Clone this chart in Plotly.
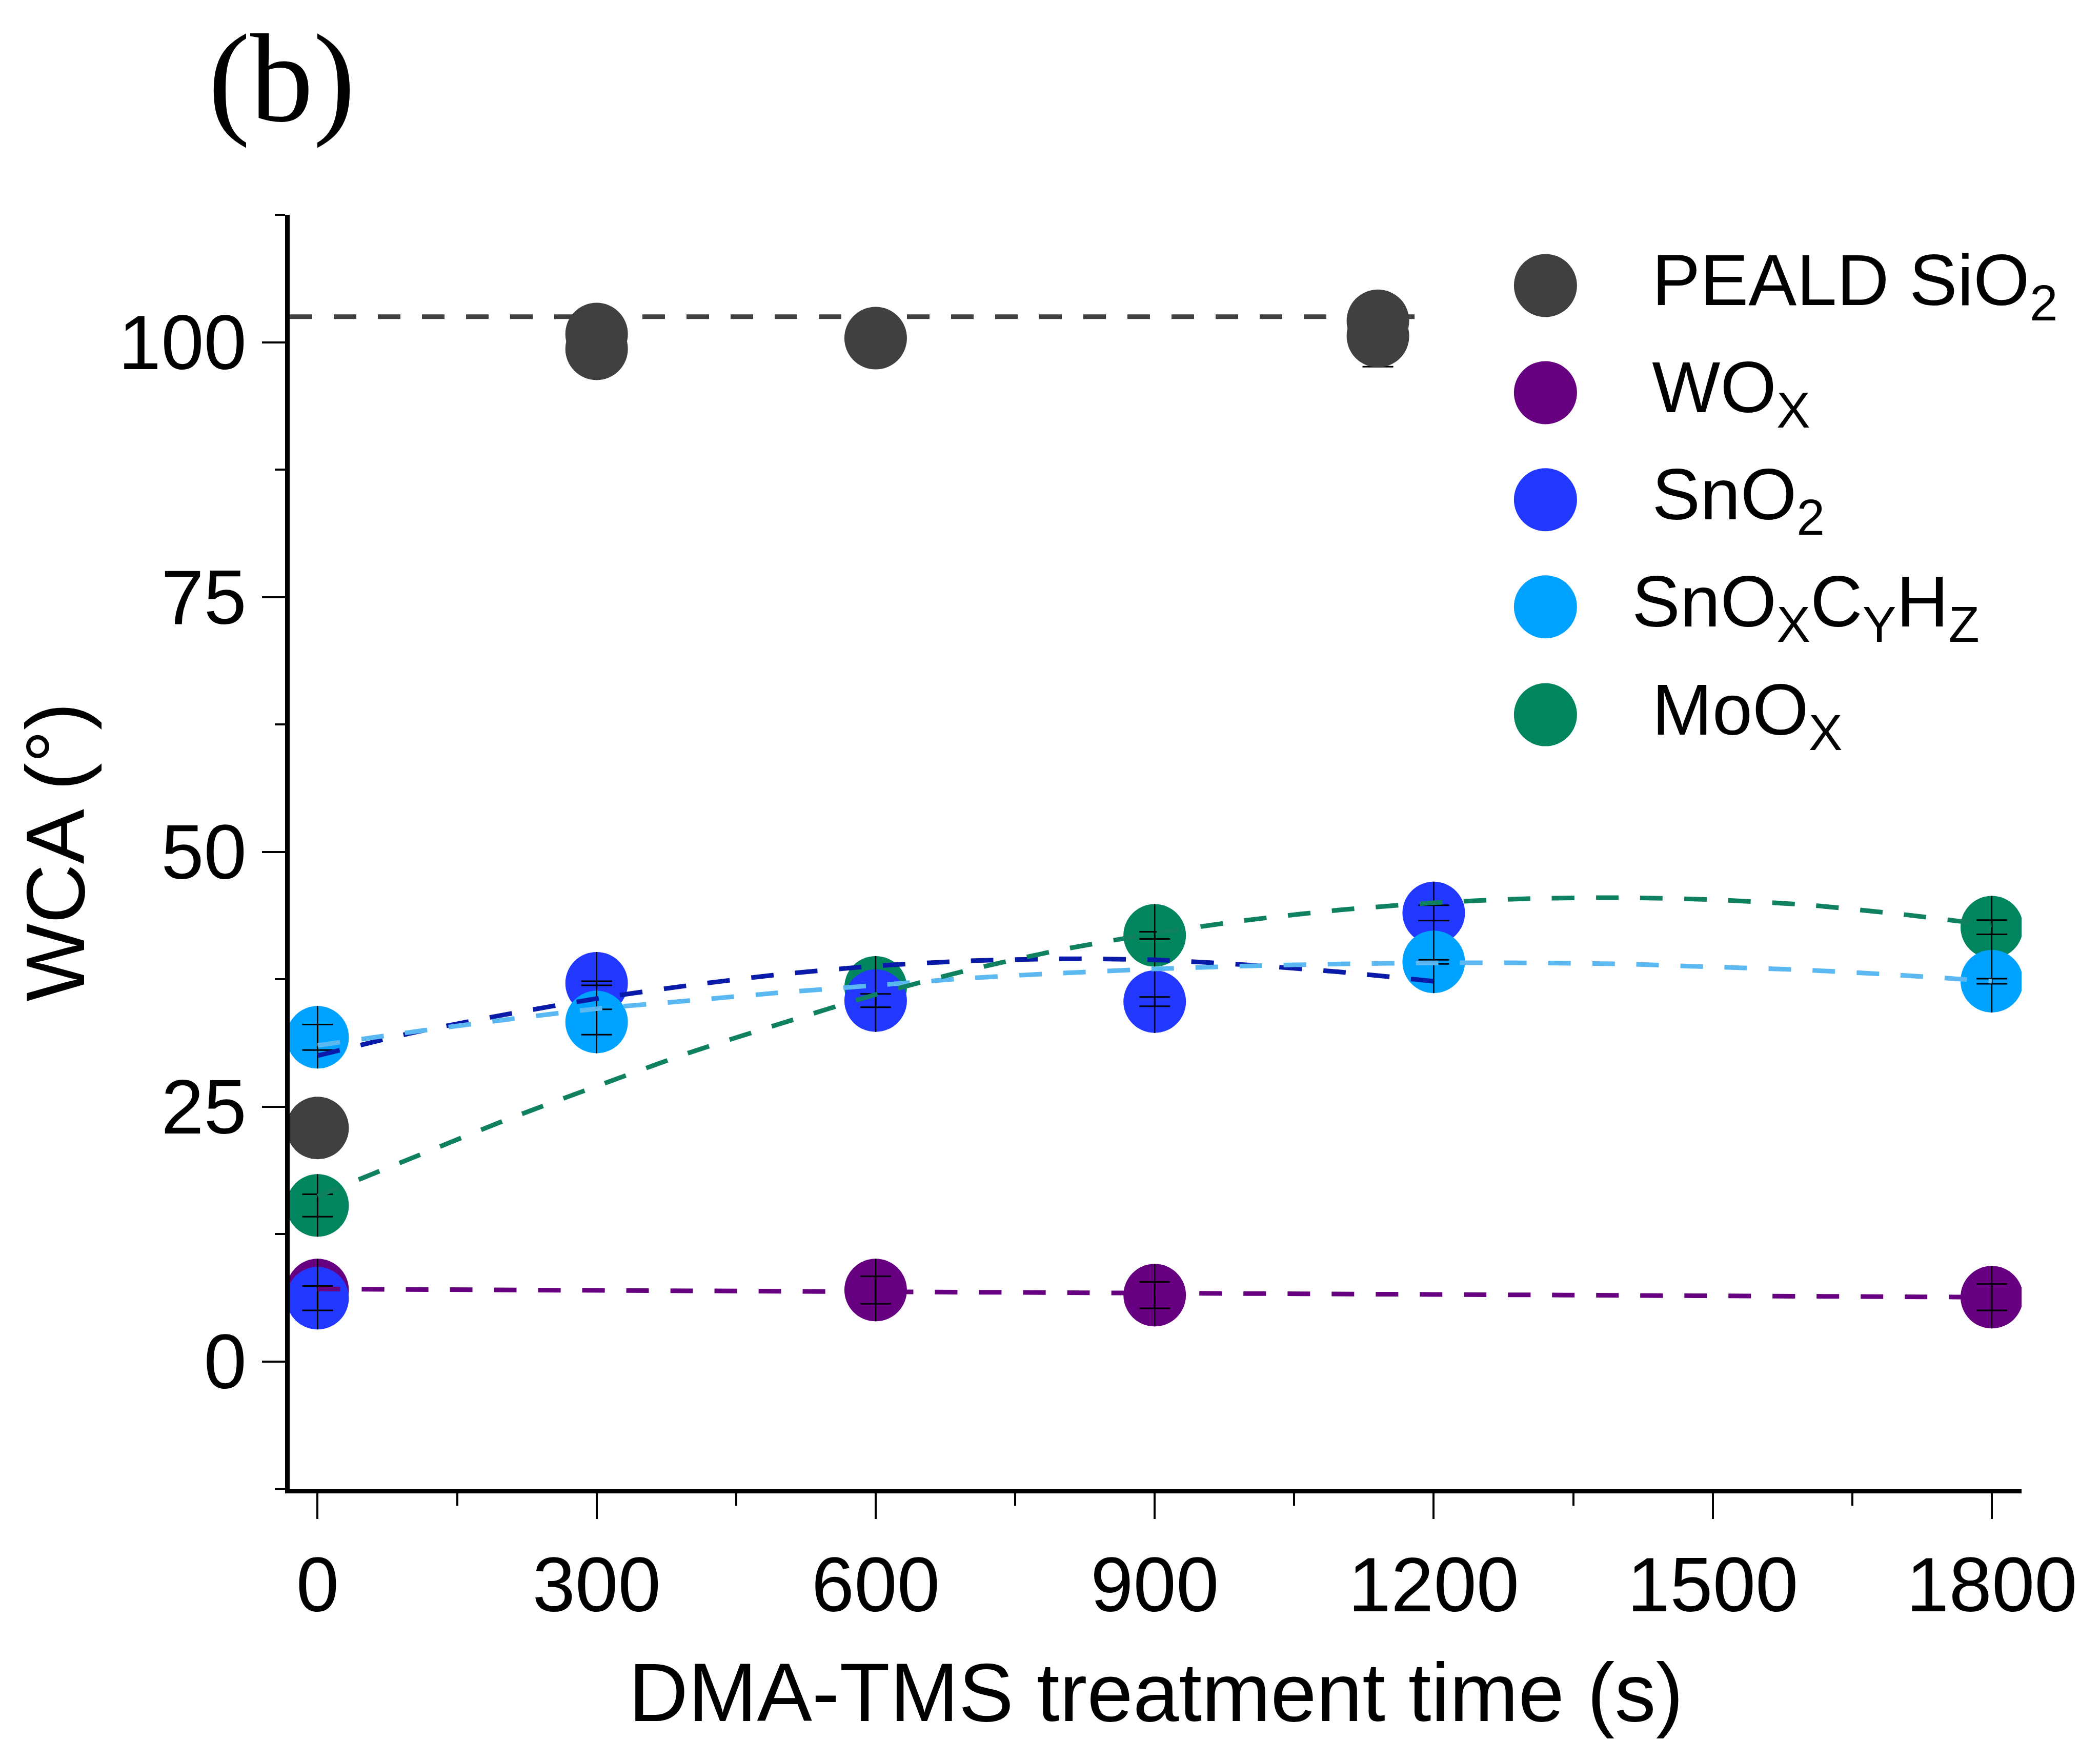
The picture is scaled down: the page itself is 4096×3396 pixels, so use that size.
import plotly.graph_objects as go

# ---------------- data ----------------
sio2_x = [0, 300, 300, 600, 1140, 1140]
sio2_y = [22.9, 100.8, 99.35, 100.4, 102.1, 100.6]
sio2_err = [0, 0, 0, 0, 0, 3.0]

wox_x = [0, 600, 900, 1800]
wox_y = [7.0, 7.0, 6.5, 6.3]
wox_err = [1.3, 1.35, 1.3, 1.3]

moox_x = [0, 600, 900, 1800]
moox_y = [15.3, 36.7, 41.8, 42.6]
moox_err = [1.1, 0.7, 0.35, 0.7]

sno2_x = [0, 300, 600, 900, 1200]
sno2_y = [6.2, 37.1, 35.4, 35.3, 44.0]
sno2_err = [1.2, 0.2, 0.65, 0.45, 0.75]

snoc_x = [0, 300, 1200, 1800]
snoc_y = [31.8, 33.3, 39.2, 37.3]
snoc_err = [1.25, 1.25, 0.2, 0.25]

# fitted guide curves (dashed)
sio2_fit_x = [-30, 1200]
sio2_fit_y = [102.5, 102.5]
wox_fit_x = [0, 900, 1800]
wox_fit_y = [7.1, 6.7, 6.3]
sno2_fit_x = [0, 100, 200, 300, 400, 500, 600, 700, 800, 900, 1000, 1100, 1200]
sno2_fit_y = [30.0, 32.2, 34.0, 35.6, 36.9, 38.0, 38.8, 39.3, 39.5, 39.4, 38.9, 38.2, 37.3]
snoc_fit_x = [0, 100, 200, 300, 400, 500, 600, 700, 800, 900, 1000, 1100, 1200,
              1300, 1400, 1500, 1600, 1700, 1800]
snoc_fit_y = [31.0, 32.3, 33.5, 34.6, 35.4, 36.2, 36.9, 37.6, 38.1, 38.5, 38.8, 39.0, 39.1,
              39.1, 39.0, 38.7, 38.4, 37.9, 37.3]
moox_fit_x = [0, 100, 200, 300, 400, 500, 600, 700, 800, 900, 1000, 1100, 1200,
              1300, 1400, 1500, 1600, 1700, 1800]
moox_fit_y = [16.2, 19.9, 23.6, 27.0, 30.3, 33.2, 36.0, 38.4, 40.4, 42.0, 43.3, 44.3, 45.0,
              45.4, 45.5, 45.3, 44.8, 43.9, 42.8]

legend_names = ["\u00a0PEALD SiO<sub>2</sub>", "\u00a0WO<sub>X</sub>", "\u00a0SnO<sub>2</sub>",
                "SnO<sub>X</sub>C<sub>Y</sub>H<sub>Z</sub>", "\u00a0MoO<sub>X</sub>"]

x_ticks = [0, 300, 600, 900, 1200, 1500, 1800]
y_ticks = [0, 25, 50, 75, 100]

# ---------------- styles ----------------
C_SIO2 = "#404040"
C_WOX = "#660080"
C_SNO2 = "#2338FF"
C_SNOC = "#00A2FF"
C_MOOX = "#00855F"
L_SNO2 = "#0A1AA8"
L_SNOC = "#5BB8F0"
L_MOOX = "#0F8060"

FONT = "Liberation Sans, Arial, sans-serif"
MS = 122          # marker diameter (px)
LW = 9            # dashed line width
DASH = "44px,42px"

fig = go.Figure()


def markers(x, y, color, err=None, err_under=False):
    kw = {}
    if err is not None and err_under:
        kw["error_y"] = dict(type="data", array=err, visible=True, color="black",
                             thickness=3, width=30)
    fig.add_trace(go.Scatter(x=x, y=y, mode="markers", showlegend=False, hoverinfo="skip",
                             marker=dict(size=MS, color=color, line=dict(width=0)), **kw))


def overlay(x, y, err):
    fig.add_trace(go.Scatter(
        x=x, y=y, mode="markers", showlegend=False, hoverinfo="skip",
        marker=dict(symbol="line-ns", size=MS / 1.4, color="black",
                    line=dict(width=2.5, color="black")),
        error_y=dict(type="data", array=err, visible=True, color="black",
                     thickness=3, width=30)))


# markers (Origin order) with error overlays
markers(sio2_x, sio2_y, C_SIO2, sio2_err, err_under=True)
markers(wox_x, wox_y, C_WOX)
overlay(wox_x, wox_y, wox_err)
markers(moox_x, moox_y, C_MOOX)
overlay(moox_x, moox_y, moox_err)
markers(sno2_x, sno2_y, C_SNO2)
overlay(sno2_x, sno2_y, sno2_err)
markers(snoc_x, snoc_y, C_SNOC)
overlay(snoc_x, snoc_y, snoc_err)

# dashed fit curves on top


def fit(x, y, color):
    fig.add_trace(go.Scatter(x=x, y=y, mode="lines", showlegend=False, hoverinfo="skip",
                             line=dict(color=color, width=LW, dash=DASH, shape="spline",
                                       smoothing=0.6)))


fit(sio2_fit_x, sio2_fit_y, C_SIO2)
fit(wox_fit_x, wox_fit_y, C_WOX)
fit(sno2_fit_x, sno2_fit_y, L_SNO2)
fit(snoc_fit_x, snoc_fit_y, L_SNOC)
fit(moox_fit_x, moox_fit_y, L_MOOX)

# ---------------- legend (manual, large symbols) ----------------
leg_colors = [C_SIO2, C_WOX, C_SNO2, C_SNOC, C_MOOX]
leg_y = [0.9445, 0.8604, 0.7764, 0.6923, 0.6076]
leg_mx = 0.7251
leg_tx = 0.7745
fig.add_trace(go.Scatter(x=[leg_mx] * len(leg_y), y=leg_y, xaxis="x2", yaxis="y2",
                         mode="markers", showlegend=False, hoverinfo="skip", cliponaxis=False,
                         marker=dict(size=123, color=leg_colors, line=dict(width=0))))
annotations = []
for name, yy in zip(legend_names, leg_y):
    annotations.append(dict(text=name, x=leg_tx, y=yy, xref="paper", yref="paper",
                            xanchor="left", yanchor="middle", showarrow=False,
                            font=dict(family=FONT, size=141, color="black")))

# axis titles and panel label
annotations.append(dict(text="DMA-TMS treatment time (s)", x=0.5, y=-0.1598, xref="paper",
                        yref="paper", xanchor="center", yanchor="middle", showarrow=False,
                        font=dict(family=FONT, size=161, color="black")))
annotations.append(dict(text="WCA (°)", x=-0.1353, y=0.5, xref="paper", yref="paper",
                        xanchor="center", yanchor="middle", showarrow=False, textangle=-90,
                        font=dict(family=FONT, size=161, color="black")))
annotations.append(dict(text="(b)", x=-0.0047, y=1.107, xref="paper", yref="paper",
                        xanchor="center", yanchor="middle", showarrow=False,
                        font=dict(family="Liberation Serif, Times New Roman, serif", size=246,
                                  color="black")))

axis_common = dict(showgrid=False, zeroline=False, showline=True, linecolor="black",
                   linewidth=9, ticks="outside", tickcolor="black", tickwidth=4,
                   tickfont=dict(family=FONT, size=150, color="black"))

fig.update_layout(
    width=4096, height=3396,
    margin=dict(l=565, r=153, t=419, b=492, pad=0),
    paper_bgcolor="white", plot_bgcolor="white",
    showlegend=False,
    xaxis=dict(range=[-30, 1832], tickvals=x_ticks, ticktext=[str(v) for v in x_ticks],
               ticklen=50, minor=dict(dtick=150, tick0=0, ticks="outside", ticklen=24,
                                      tickwidth=4, tickcolor="black"),
               **axis_common),
    yaxis=dict(range=[-12.5, 112.5], tickvals=y_ticks, ticktext=[str(v) for v in y_ticks],
               ticklen=45, minor=dict(dtick=12.5, tick0=0, ticks="outside", ticklen=20,
                                      tickwidth=4, tickcolor="black"),
               **axis_common),
    xaxis2=dict(overlaying="x", anchor="y2", range=[0, 1], visible=False),
    yaxis2=dict(overlaying="y", anchor="x2", range=[0, 1], visible=False),
    annotations=annotations,
)

fig.write_html("out.html")
